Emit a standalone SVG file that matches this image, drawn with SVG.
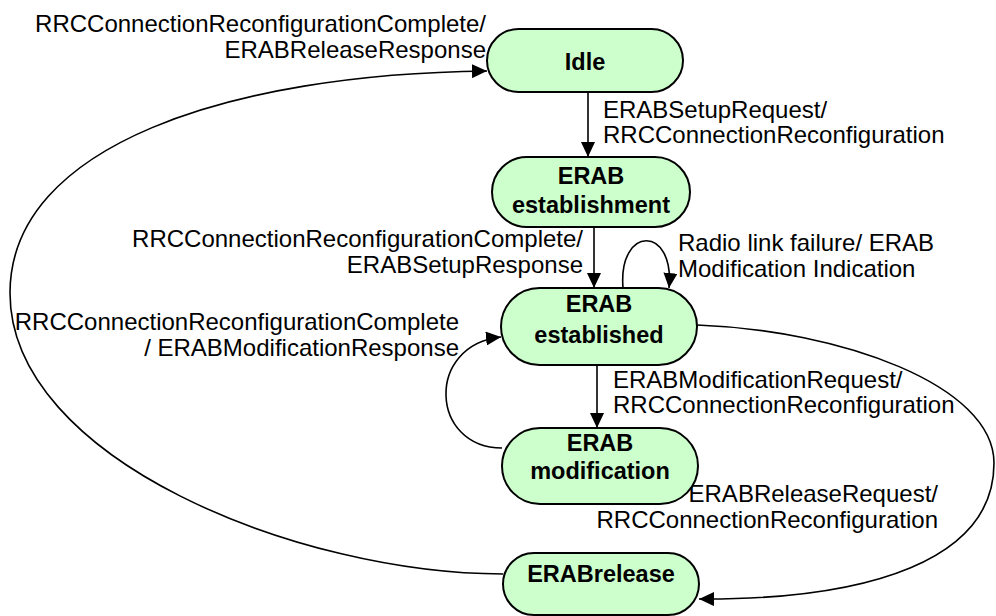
<svg xmlns="http://www.w3.org/2000/svg" width="996" height="616" viewBox="0 0 996 616">
  <style>
    .node rect { fill: #ccffcc; stroke: #000; stroke-width: 2; }
    .node text { font-family: "Liberation Sans", Arial, sans-serif; font-size: 23.5px; font-weight: bold; text-anchor: middle; fill: #000; }
    .edge { fill: none; stroke: #000; stroke-width: 1.6; marker-end: url(#arrow); }
    .label { font-family: "Liberation Sans", Arial, sans-serif; font-size: 24px; fill: #000; }
    .end { text-anchor: end; }
  </style>
  <defs>
    <marker id="arrow" markerUnits="userSpaceOnUse" markerWidth="16" markerHeight="14" refX="15" refY="7" orient="auto">
      <path d="M0,0 L15,7 L0,14 Z" fill="#000"/>
    </marker>
  </defs>
  <rect width="996" height="616" fill="#fff"/>

  <!-- transitions -->
  <g id="connectors">
    <path class="edge" d="M588,92 L588,157"/>
    <path class="edge" d="M594,227 L594,288"/>
    <path class="edge" d="M597,365 L597,428"/>
    <path class="edge" d="M623,288 C618,225 675,225 669,288"/>
    <path class="edge" d="M502,448 C430,448 425,345 501,337"/>
    <path class="edge" d="M503,574 C300,574 10,460 10,293 C10,145 230,74 487,71"/>
    <path class="edge" d="M697,325 C840,330 994,385 994,463 C994,560 870,600 699,599"/>

    <text class="label end" x="486" y="32">RRCConnectionReconfigurationComplete/</text>
    <text class="label end" x="486" y="58">ERABReleaseResponse</text>

    <text class="label" x="603" y="118">ERABSetupRequest/</text>
    <text class="label" x="603" y="143">RRCConnectionReconfiguration</text>

    <text class="label end" x="583" y="247">RRCConnectionReconfigurationComplete/</text>
    <text class="label end" x="583" y="273">ERABSetupResponse</text>

    <text class="label" x="678" y="251">Radio link failure/ ERAB</text>
    <text class="label" x="678" y="277">Modification Indication</text>

    <text class="label end" x="459" y="330">RRCConnectionReconfigurationComplete</text>
    <text class="label end" x="459" y="356">/ ERABModificationResponse</text>

    <text class="label" x="613" y="388">ERABModificationRequest/</text>
    <text class="label" x="613" y="413">RRCConnectionReconfiguration</text>

    <text class="label end" x="938" y="502">ERABReleaseRequest/</text>
    <text class="label end" x="938" y="528">RRCConnectionReconfiguration</text>
  </g>

  <!-- states -->
  <g id="idle" class="node">
    <rect x="487" y="29" width="196" height="63" rx="31.5"/>
    <text x="585" y="70">Idle</text>
  </g>
  <g id="erab-establishment" class="node">
    <rect x="492" y="157" width="198" height="70" rx="35"/>
    <text x="591" y="184">ERAB</text>
    <text x="591" y="213">establishment</text>
  </g>
  <g id="erab-established" class="node">
    <rect x="501" y="288" width="196" height="77" rx="38.5"/>
    <text x="599" y="312">ERAB</text>
    <text x="599" y="343">established</text>
  </g>
  <g id="erab-modification" class="node">
    <rect x="502" y="428" width="196" height="76" rx="38"/>
    <text x="600" y="451">ERAB</text>
    <text x="600" y="479">modification</text>
  </g>
  <g id="erab-release" class="node">
    <rect x="503" y="553" width="196" height="62" rx="31"/>
    <text x="601" y="582">ERABrelease</text>
  </g>
</svg>
